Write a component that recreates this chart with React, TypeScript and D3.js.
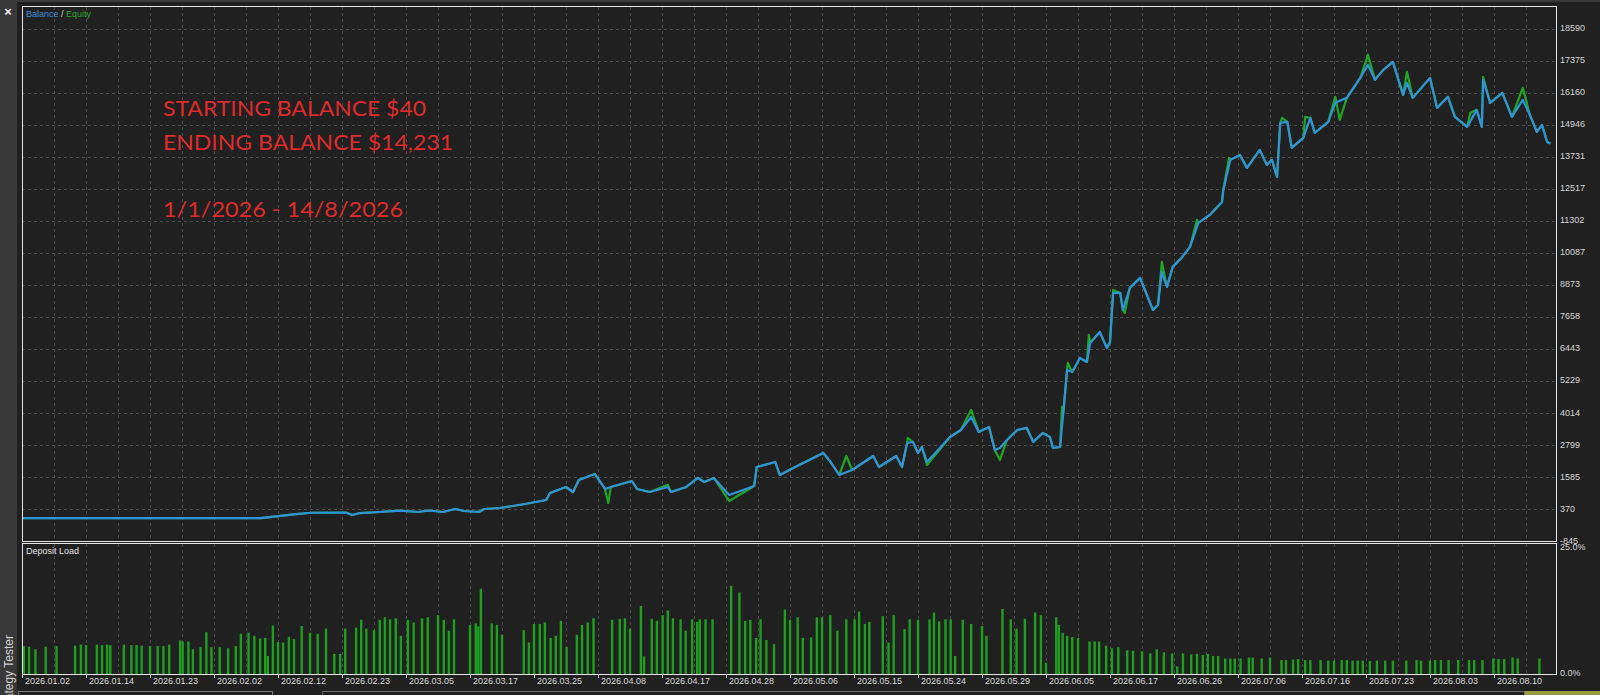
import { useRef, useEffect } from 'react';
import * as d3 from 'd3';

const W = 1600;
const H = 695;

// x axis labels, one every 64px (trade-index axis of the tester)
const dateLabels = [
  '2026.01.02', '2026.01.14', '2026.01.23', '2026.02.02', '2026.02.12', '2026.02.23',
  '2026.03.05', '2026.03.17', '2026.03.25', '2026.04.08', '2026.04.17', '2026.04.28',
  '2026.05.06', '2026.05.15', '2026.05.24', '2026.05.29', '2026.06.05', '2026.06.17',
  '2026.06.26', '2026.07.06', '2026.07.16', '2026.07.23', '2026.08.03', '2026.08.10',
];

const balanceTicks = [
  18590, 17375, 16160, 14946, 13731, 12517, 11302, 10087, 8873, 7658, 6443, 5229, 4014, 2799,
  1585, 370, -845,
];

const loadTicks = [25, 0];

const noteLines = ['STARTING BALANCE $40', 'ENDING BALANCE $14,231', '1/1/2026 - 14/8/2026'];

// [position in label units, balance]
const balance: [number, number][] = [
  [0, 40], [3.73, 40], [4.28, 190], [4.52, 240], [5.06, 250], [5.16, 155], [5.28, 230],
  [5.58, 270], [5.91, 318], [6.19, 270], [6.36, 326], [6.58, 270], [6.77, 383], [6.91, 307],
  [7.14, 270], [7.22, 383], [7.47, 420], [7.86, 572], [8.19, 724], [8.25, 989], [8.5, 1217],
  [8.61, 1027], [8.7, 1482], [8.95, 1710], [9.11, 1141], [9.2, 1217], [9.53, 1444],
  [9.61, 1141], [9.81, 1027], [10.09, 1217], [10.14, 1027], [10.38, 1217], [10.56, 1558],
  [10.66, 1406], [10.81, 1558], [11.05, 914], [11.44, 1255], [11.48, 1975], [11.77, 2164],
  [11.84, 1672], [12.05, 1937], [12.52, 2505], [12.61, 2240], [12.77, 1672], [12.97, 1861],
  [13.3, 2391], [13.39, 1975], [13.66, 2391], [13.75, 1975], [13.83, 2885], [13.92, 2925],
  [14.0, 2505], [14.06, 2733], [14.14, 2164], [14.5, 3112], [14.67, 3378], [14.83, 3870],
  [14.95, 3302], [15.11, 3492], [15.2, 2620], [15.28, 2695], [15.39, 3000], [15.55, 3378],
  [15.7, 3454], [15.8, 2925], [15.95, 3265], [16.06, 3112], [16.11, 2695], [16.22, 2733],
  [16.27, 4023], [16.33, 5653], [16.41, 5577], [16.53, 6107], [16.64, 5956], [16.69, 6676],
  [16.84, 7093], [16.95, 6486], [17.0, 6714], [17.05, 8571], [17.16, 8571], [17.2, 7927],
  [17.31, 8761], [17.47, 9140], [17.67, 7927], [17.75, 8116], [17.81, 9367], [17.89, 8799],
  [17.98, 9557], [18.13, 9934], [18.25, 10314], [18.38, 11224], [18.56, 11527],
  [18.75, 12020], [18.77, 12475], [18.88, 13612], [19.03, 13800], [19.14, 13308],
  [19.34, 13990], [19.45, 13422], [19.53, 13612], [19.61, 12968], [19.66, 15015],
  [19.77, 15053], [19.84, 14066], [20.02, 14445], [20.13, 15203], [20.2, 14635],
  [20.41, 15053], [20.52, 15773], [20.7, 15962], [20.91, 16720], [21.03, 17213],
  [21.14, 16644], [21.27, 17024], [21.42, 17327], [21.58, 16076], [21.64, 16530],
  [21.73, 15962], [22.0, 16720], [22.11, 15583], [22.28, 16000], [22.39, 15242],
  [22.58, 14863], [22.73, 15507], [22.81, 14863], [22.83, 16644], [22.94, 15773],
  [23.13, 16152], [23.28, 15242], [23.45, 15886], [23.56, 15318], [23.67, 14673],
  [23.75, 14938], [23.83, 14293], [23.88, 14231],
];

// equity where it leaves the balance line (floating profit / drawdown)
const equitySwings: [number, number][] = [
  [9.16, 610], [10.09, 1300], [11.05, 686], [12.88, 2391], [13.84, 3074], [14.14, 2050],
  [14.83, 4136], [15.28, 2240], [16.25, 4250], [16.34, 5919], [16.67, 6980], [17.05, 8685],
  [17.23, 7813], [17.81, 9746], [18.36, 11338], [18.86, 13687], [19.69, 15203],
  [20.05, 15242], [20.52, 16000], [20.59, 15128], [21.03, 17592], [21.64, 16947],
  [22.63, 15400], [22.83, 16758], [23.45, 16341],
];

// [position in label units, deposit load %]
const depositLoad: [number, number][] = [
  [0.03, 5.4], [0.11, 5.3], [0.21, 4.8], [0.37, 5.3], [0.54, 5.4], [0.83, 5.5], [0.92, 5.7],
  [1.0, 5.6], [1.17, 5.7], [1.25, 5.6], [1.33, 5.7], [1.38, 5.6], [1.59, 5.7], [1.71, 5.6],
  [1.79, 5.6], [1.87, 5.5], [2.0, 5.4], [2.12, 5.4], [2.21, 5.4], [2.3, 5.7], [2.47, 6.5],
  [2.51, 6.3], [2.6, 6.3], [2.67, 4.8], [2.79, 5.2], [2.88, 8.1], [2.96, 5.2], [3.09, 5.2],
  [3.22, 5.0], [3.34, 5.4], [3.42, 7.8], [3.54, 8.0], [3.63, 7.4], [3.72, 6.9], [3.8, 7.0],
  [3.84, 3.5], [3.92, 9.4], [4.0, 6.2], [4.08, 6.1], [4.17, 7.2], [4.25, 6.8], [4.37, 9.3],
  [4.5, 8.0], [4.62, 7.8], [4.75, 8.8], [4.88, 3.9], [4.97, 3.9], [5.05, 8.8], [5.22, 9.0],
  [5.3, 10.5], [5.38, 8.8], [5.5, 8.5], [5.59, 10.5], [5.67, 11.0], [5.75, 10.6],
  [5.84, 10.8], [5.92, 7.4], [6.03, 10.5], [6.12, 10.0], [6.25, 10.8], [6.34, 11.0],
  [6.5, 11.4], [6.59, 10.5], [6.67, 8.4], [6.75, 10.6], [7.0, 9.5], [7.09, 9.8], [7.13, 9.2],
  [7.17, 16.5], [7.34, 9.8], [7.42, 9.5], [7.5, 7.6], [7.84, 8.5], [7.92, 6.1], [8.0, 9.7],
  [8.09, 9.7], [8.17, 10.0], [8.26, 7.0], [8.34, 7.4], [8.42, 10.3], [8.51, 5.2], [8.67, 7.6],
  [8.75, 9.5], [8.84, 10.0], [8.93, 10.8], [9.22, 10.5], [9.34, 10.7], [9.42, 10.8],
  [9.5, 8.8], [9.67, 13.2], [9.72, 3.4], [9.84, 10.7], [9.92, 10.3], [10.01, 11.4],
  [10.09, 12.3], [10.17, 10.8], [10.29, 10.6], [10.37, 8.4], [10.47, 10.6], [10.55, 10.1],
  [10.59, 10.6], [10.68, 10.6], [10.79, 10.6], [11.08, 17.1], [11.21, 15.8], [11.3, 10.3],
  [11.38, 10.5], [11.47, 7.0], [11.54, 10.6], [11.63, 6.6], [11.75, 5.8], [11.92, 12.5],
  [12.0, 10.5], [12.12, 11.0], [12.2, 7.0], [12.33, 7.1], [12.42, 11.0], [12.5, 11.0],
  [12.63, 11.4], [12.74, 8.4], [12.88, 10.6], [13.01, 10.6], [13.08, 12.1], [13.17, 9.7],
  [13.24, 10.1], [13.45, 11.2], [13.54, 6.1], [13.62, 11.4], [13.79, 8.7], [13.87, 10.6],
  [14.0, 10.5], [14.18, 10.6], [14.25, 11.9], [14.33, 10.2], [14.43, 10.6], [14.51, 10.6],
  [14.58, 3.5], [14.7, 10.5], [14.83, 9.7], [15.0, 9.3], [15.07, 7.4], [15.32, 12.6],
  [15.45, 10.6], [15.54, 8.8], [15.67, 10.7], [15.83, 11.9], [15.92, 11.4], [16.0, 2.2],
  [16.16, 11.0], [16.2, 9.5], [16.26, 8.0], [16.33, 7.4], [16.41, 7.2], [16.5, 7.0],
  [16.68, 6.3], [16.76, 6.3], [16.83, 6.3], [16.94, 5.5], [17.03, 5.0], [17.13, 5.2],
  [17.27, 4.6], [17.36, 4.5], [17.5, 4.4], [17.63, 4.0], [17.73, 4.8], [17.84, 4.2],
  [17.97, 4.0], [18.05, 1.5], [18.14, 4.0], [18.27, 3.8], [18.36, 3.9], [18.45, 3.7],
  [18.53, 3.9], [18.61, 3.5], [18.69, 3.5], [18.8, 3.0], [18.88, 3.0], [18.95, 3.0],
  [19.04, 3.0], [19.17, 3.2], [19.23, 3.2], [19.37, 3.0], [19.5, 3.2], [19.68, 2.7],
  [19.75, 2.7], [19.86, 2.8], [19.94, 2.9], [20.05, 2.7], [20.13, 2.7], [20.29, 2.7],
  [20.41, 2.6], [20.5, 2.6], [20.62, 2.7], [20.7, 2.7], [20.79, 2.6], [20.87, 2.6],
  [20.95, 2.6], [21.06, 2.5], [21.17, 2.6], [21.3, 2.6], [21.42, 2.6], [21.63, 2.6],
  [21.79, 2.7], [21.86, 2.6], [22.0, 2.6], [22.08, 2.7], [22.17, 2.7], [22.29, 2.7],
  [22.44, 2.7], [22.61, 2.7], [22.69, 2.7], [22.82, 2.7], [22.99, 3.0], [23.07, 2.9],
  [23.16, 2.9], [23.29, 3.2], [23.37, 3.0], [23.71, 3.0],
];

const FONT = "'Liberation Sans', Arial, sans-serif";

export default function App() {
  const svgRef = useRef<SVGSVGElement>(null);

  useEffect(() => {
    const svg = d3.select(svgRef.current);
    svg.selectAll('*').remove();

    const left = 22;
    const right = 1556;
    const mainTop = 6;
    const mainBottom = 541;
    const subTop = 543;
    const subBottom = 674;
    const step = 64;

    const x = d3.scaleLinear().domain([0, dateLabels.length]).range([left, left + step * dateLabels.length]);
    const y = d3
      .scaleLinear()
      .domain(d3.extent(balanceTicks) as [number, number])
      .range([mainBottom + 0.4, 28.5]);
    const yl = d3.scaleLinear().domain([0, d3.max(loadTicks) as number]).range([subBottom, subTop + 2]);

    // backgrounds
    svg.append('rect').attr('width', W).attr('height', H).attr('fill', '#202020');
    svg.append('rect').attr('x', 0).attr('y', 0).attr('width', W).attr('height', 2).attr('fill', '#3a3a3a');
    svg.append('rect').attr('x', 0).attr('y', 0).attr('width', 17).attr('height', H).attr('fill', '#383838');

    svg
      .append('text')
      .attr('x', 8)
      .attr('y', 13)
      .attr('text-anchor', 'middle')
      .attr('dominant-baseline', 'middle')
      .attr('fill', '#f0f0f0')
      .attr('font-size', '13px')
      .attr('font-weight', 700)
      .attr('font-family', FONT)
      .text('×');

    svg
      .append('text')
      .attr('transform', 'translate(13,635) rotate(-90)')
      .attr('text-anchor', 'end')
      .attr('fill', '#cfcfcf')
      .attr('font-size', '12px')
      .attr('font-family', FONT)
      .text('Strategy Tester');

    // bottom status strip
    svg.append('rect').attr('x', 18.5).attr('y', 691.5).attr('width', 254).attr('height', 10)
      .attr('fill', 'none').attr('stroke', '#7d7d7d');
    svg.append('rect').attr('x', 322.5).attr('y', 691.5).attr('width', 1202).attr('height', 10)
      .attr('fill', 'none').attr('stroke', '#6e6e6e');
    svg.append('rect').attr('x', 1525).attr('y', 691).attr('width', 75).attr('height', 4).attr('fill', '#9c9a3e');

    const grid = svg.append('g').attr('stroke', '#4d4d4d').attr('stroke-dasharray', '3,3').attr('stroke-width', 1);

    // vertical grid, every half label step
    const vLines = d3.range(0.5, dateLabels.length, 0.5).filter((u) => x(u) < right - 2);
    for (const u of vLines) {
      const gx = Math.round(x(u)) + 0.5;
      grid.append('line').attr('x1', gx).attr('x2', gx).attr('y1', mainTop + 1).attr('y2', mainBottom);
      grid.append('line').attr('x1', gx).attr('x2', gx).attr('y1', subTop + 1).attr('y2', subBottom);
    }
    // horizontal grid
    for (const t of balanceTicks.slice(0, -1)) {
      const gy = Math.round(y(t)) + 0.5;
      grid.append('line').attr('x1', left).attr('x2', right).attr('y1', gy).attr('y2', gy);
    }

    // clip for the curves
    svg
      .append('clipPath')
      .attr('id', 'mainClip')
      .append('rect')
      .attr('x', left)
      .attr('y', mainTop)
      .attr('width', right - left)
      .attr('height', mainBottom - mainTop);

    const swingU = new Set(equitySwings.map((d) => d[0]));
    const equity = [...balance.filter((d) => !swingU.has(d[0])), ...equitySwings].sort((a, b) => a[0] - b[0]);

    const line = d3
      .line<[number, number]>()
      .x((d) => x(d[0]))
      .y((d) => y(d[1]));

    const curves = svg.append('g').attr('clip-path', 'url(#mainClip)');
    curves
      .append('path')
      .datum(equity)
      .attr('d', line)
      .attr('fill', 'none')
      .attr('stroke', '#1fa524')
      .attr('stroke-width', 2.2)
      .attr('stroke-linejoin', 'round');
    curves
      .append('path')
      .datum(balance)
      .attr('d', line)
      .attr('fill', 'none')
      .attr('stroke', '#2e93da')
      .attr('stroke-width', 2.2)
      .attr('stroke-linejoin', 'round');

    // deposit load bars
    svg
      .append('g')
      .selectAll('rect')
      .data(depositLoad)
      .join('rect')
      .attr('x', (d) => x(d[0]) - 1.2)
      .attr('width', 2.4)
      .attr('y', (d) => yl(d[1]))
      .attr('height', (d) => subBottom - yl(d[1]))
      .attr('fill', '#1e9e1e');

    // panel borders
    svg.append('rect').attr('x', left + 0.5).attr('y', mainTop + 0.5).attr('width', right - left)
      .attr('height', mainBottom - mainTop).attr('fill', 'none').attr('stroke', '#e6e6e6');
    svg.append('rect').attr('x', left + 0.5).attr('y', subTop + 0.5).attr('width', right - left)
      .attr('height', subBottom - subTop).attr('fill', 'none').attr('stroke', '#e6e6e6');

    // right axis labels
    const axisText = svg.append('g').attr('fill', '#d6d6d6').attr('font-size', '9px').attr('font-family', FONT);
    for (const t of balanceTicks) {
      axisText
        .append('text')
        .attr('x', 1560)
        .attr('y', y(t))
        .attr('dominant-baseline', 'middle')
        .text(String(t));
    }
    for (const t of loadTicks) {
      axisText
        .append('text')
        .attr('x', 1560)
        .attr('y', t === 0 ? yl(t) : yl(t) + 3)
        .attr('dominant-baseline', 'middle')
        .text(`${t.toFixed(1)}%`);
    }

    // x labels and tick marks
    dateLabels.forEach((label, i) => {
      const tx = Math.round(x(i)) + 0.5;
      svg.append('line').attr('x1', tx).attr('x2', tx).attr('y1', subBottom).attr('y2', subBottom + 4)
        .attr('stroke', '#d0d0d0');
      axisText
        .append('text')
        .attr('x', x(i) + 3)
        .attr('y', 682)
        .attr('dominant-baseline', 'middle')
        .text(label);
    });

    // legends
    const legend = svg
      .append('text')
      .attr('x', 26)
      .attr('y', 15)
      .attr('dominant-baseline', 'middle')
      .attr('font-size', '9px')
      .attr('font-family', FONT);
    legend.append('tspan').attr('fill', '#3b8fd8').text('Balance');
    legend.append('tspan').attr('fill', '#cfcfcf').text(' / ');
    legend.append('tspan').attr('fill', '#2aa52a').text('Equity');

    svg
      .append('text')
      .attr('x', 26)
      .attr('y', 552)
      .attr('dominant-baseline', 'middle')
      .attr('fill', '#e0e0e0')
      .attr('font-size', '9px')
      .attr('font-family', FONT)
      .text('Deposit Load');

    // annotation
    const noteY = [116, 150, 217];
    const noteW = [263, 290, 240];
    noteLines.forEach((txt, i) => {
      svg
        .append('text')
        .attr('x', 163)
        .attr('y', noteY[i])
        .attr('fill', '#df2a2c')
        .attr('font-size', '22px')
        .attr('font-family', "Lato, 'Open Sans', sans-serif")
        .attr('textLength', noteW[i])
        .attr('lengthAdjust', 'spacingAndGlyphs')
        .text(txt);
    });
  }, []);

  return (
    <svg
      ref={svgRef}
      width={W}
      height={H}
      viewBox={`0 0 ${W} ${H}`}
      style={{ position: 'fixed', left: 0, top: 0, display: 'block' }}
    />
  );
}
